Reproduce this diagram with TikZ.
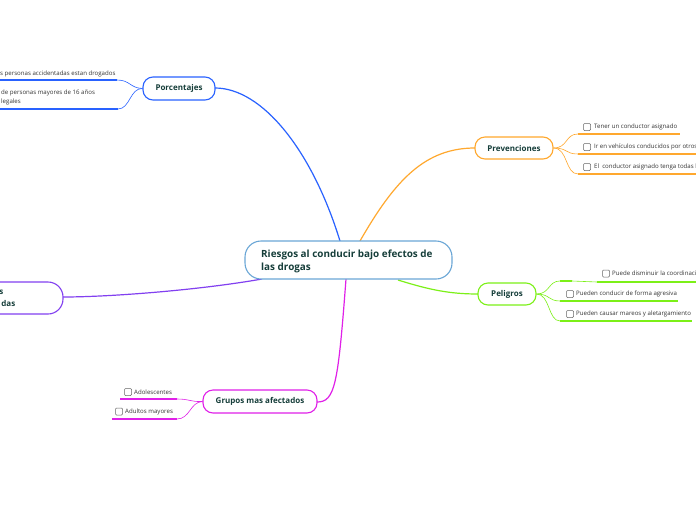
\documentclass[tikz,border=0pt]{standalone}
\usepackage{fontspec}
\setmainfont{Open Sans}
\definecolor{txt}{HTML}{163E3A}
\definecolor{leaf}{HTML}{333333}
\definecolor{cblue}{HTML}{2962FF}
\definecolor{corange}{HTML}{FFA82E}
\definecolor{cgreen}{HTML}{7CF018}
\definecolor{cpurple}{HTML}{8240F0}
\definecolor{cmag}{HTML}{E020E8}
\definecolor{ccenter}{HTML}{6AA6D6}
\tikzset{
  topic/.style={draw, line width=1.1pt, fill=white, rounded corners=10pt, font=\fontsize{8}{9}\selectfont\bfseries, text=txt, inner sep=0pt},
  conn/.style={line width=1.2pt},
  thin/.style={line width=0.6pt},
  uline/.style={line width=1.8pt},
  ltext/.style={font=\fontsize{6.1}{7}\selectfont, text=leaf, inner sep=0pt, anchor=west},
  cbox/.style={draw=gray!80!black, line width=0.5pt, rounded corners=1pt, minimum size=7pt, inner sep=0pt, fill=white}
}
\begin{document}
\begin{tikzpicture}[x=1pt,y=-1pt]
\useasboundingbox (0,0) rectangle (696,520);
\clip (0,0) rectangle (696,520);
\fill[white] (0,0) rectangle (696,520);
% anchors
\coordinate (cA) at (340,241);
\coordinate (cB) at (360,241);
\coordinate (cC) at (398,280);
\coordinate (cD) at (262,279);
\coordinate (cE) at (346,279);
% main connectors
\draw[conn, cblue] (cA) .. controls (312,150) and (262,88) .. (215,88);
\draw[conn, corange] (cB) .. controls (395,180) and (425,148) .. (475,148);
\draw[conn, cgreen] (cC) .. controls (430,290) and (450,294) .. (478,294);
\draw[conn, cpurple] (cD) .. controls (200,290) and (110,297) .. (63,297);
\draw[conn, cmag] (cE) .. controls (338,385) and (335,402) .. (317,402);
% central node
\node[draw=ccenter, line width=1.1pt, fill=white, rounded corners=16pt, minimum width=207pt, minimum height=38pt, inner sep=0pt] (center) at (348.5,260) {};
\node[anchor=west, font=\fontsize{9.9}{13}\selectfont\bfseries, text=txt, align=left, inner sep=0pt] (ctext) at (261,261) {Riesgos al conducir bajo efectos de\\las drogas};
% Porcentajes
\node[topic, draw=cblue, minimum width=72pt, minimum height=23pt] (porc) at (179,88.5) {Porcentajes};
\coordinate (p1) at (117,80);
\coordinate (p2) at (118,109);
\draw[thin, cblue] (porc.west) .. controls (130,88) and (130,80) .. (p1);
\draw[thin, cblue] (porc.west) .. controls (130,88) and (130,109) .. (p2);
\draw[uline, cblue] (p1) -- (0,80);
\draw[uline, cblue] (p2) -- (0,109);
\node[ltext] (p1t) at (0,73.5) {s personas accidentadas estan drogados};
\node[ltext, align=left, font=\fontsize{6.1}{9}\selectfont] (p2t) at (1,97.5) {de personas mayores de 16 años\\legales};
% Prevenciones
\node[topic, draw=corange, minimum width=78pt, minimum height=22pt] (prev) at (514,148) {Prevenciones};
\coordinate (v1) at (578,134);
\coordinate (v2) at (578,154);
\coordinate (v3) at (578,174);
\draw[thin, corange] (prev.east) .. controls (568,148) and (565,134) .. (v1);
\draw[thin, corange] (prev.east) .. controls (568,148) and (565,154) .. (v2);
\draw[thin, corange] (prev.east) .. controls (568,148) and (565,174) .. (v3);
\draw[uline, corange] (v1) -- (680,134);
\draw[uline, corange] (v2) -- (696,154);
\draw[uline, corange] (v3) -- (696,174);
\node[cbox] (vb1) at (587,127) {};
\node[ltext] (vt1) at (594,127) {Tener un conductor asignado};
\node[cbox] (vb2) at (587,147) {};
\node[ltext] (vt2) at (594,147) {Ir en vehículos conducidos por otros};
\node[cbox] (vb3) at (587,167) {};
\node[ltext] (vt3) at (594,167) {El~ conductor asignado tenga todas la};
% Peligros
\node[topic, draw=cgreen, minimum width=58pt, minimum height=22pt] (pel) at (507,294) {Peligros};
\coordinate (g1) at (560,281);
\coordinate (g2) at (560,301);
\coordinate (g3) at (560,321);
\draw[thin, cgreen] (pel.east) .. controls (550,294) and (548,281) .. (g1);
\draw[thin, cgreen] (pel.east) .. controls (550,294) and (548,301) .. (g2);
\draw[thin, cgreen] (pel.east) .. controls (550,294) and (548,321) .. (g3);
\coordinate (g1a) at (572,281);
\coordinate (g1b) at (597,282);
\draw[uline, cgreen] (g1) -- (g1a);
\draw[thin, cgreen] (g1a) -- (g1b);
\draw[uline, cgreen] (g1b) -- (696,282);
\draw[uline, cgreen] (g2) -- (678,301);
\draw[uline, cgreen] (g3) -- (692,321);
\node[cbox] (gb1) at (606,273.5) {};
\node[ltext] (gt1) at (612,273.5) {Puede disminuir la coordinacio};
\node[cbox] (gb2) at (570,294) {};
\node[ltext] (gt2) at (576,294) {Pueden conducir de forma agresiva};
\node[cbox] (gb3) at (570,314) {};
\node[ltext] (gt3) at (576,314) {Pueden causar mareos y aletargamiento};
% purple node
\node[draw=cpurple, line width=1.1pt, fill=white, rounded corners=15pt, minimum width=123pt, minimum height=32pt, inner sep=0pt] (pur) at (1.5,298) {};
\node[anchor=east, font=\fontsize{8}{9}\selectfont\bfseries, text=txt, inner sep=0pt] (purt1) at (3.5,292) {s};
\node[anchor=east, font=\fontsize{8}{9}\selectfont\bfseries, text=txt, inner sep=0pt] (purt2) at (15.5,303.5) {das};
% Grupos
\node[topic, draw=cmag, minimum width=114pt, minimum height=23pt] (grp) at (260,401.5) {Grupos mas afectados};
\coordinate (a1) at (177,399);
\coordinate (a2) at (177,419);
\draw[thin, cmag] (grp.west) .. controls (190,402) and (190,399) .. (a1);
\draw[thin, cmag] (grp.west) .. controls (190,402) and (190,419) .. (a2);
\draw[uline, cmag] (a1) -- (120,399);
\draw[uline, cmag] (a2) -- (112,419);
\node[cbox] (ab1) at (128,392) {};
\node[ltext] (at1) at (134,392) {Adolescentes};
\node[cbox] (ab2) at (119,411.5) {};
\node[ltext] (at2) at (125,411.5) {Adultos mayores};
\end{tikzpicture}
\end{document}
